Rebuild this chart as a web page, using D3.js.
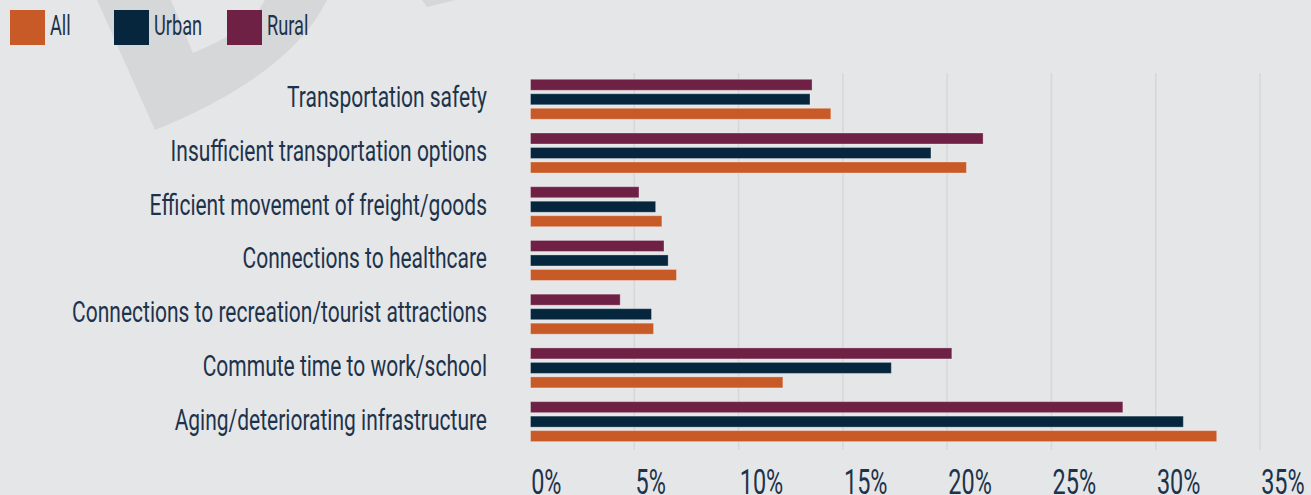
<!DOCTYPE html>
<html>
<head>
<meta charset="utf-8">
<script src="https://cdn.jsdelivr.net/npm/d3@7"></script>
<style>
  html, body { margin: 0; padding: 0; background: #e5e6e8; }
  svg { display: block; }
  text { font-family: Roboto, "Noto Sans", sans-serif; fill: #1d334b; }
</style>
</head>
<body>
<svg id="chart" width="1311" height="495"></svg>
<script>
// ---- data ----
const categories = [
  "Transportation safety",
  "Insufficient transportation options",
  "Efficient movement of freight/goods",
  "Connections to healthcare",
  "Connections to recreation/tourist attractions",
  "Commute time to work/school",
  "Aging/deteriorating infrastructure"
];
const seriesNames = ["All", "Urban", "Rural"];
const allValues   = [14.4, 20.9, 6.3, 7.0, 5.9, 12.1, 32.9];
const urbanValues = [13.4, 19.2, 6.0, 6.6, 5.8, 17.3, 31.3];
const ruralValues = [13.5, 21.7, 5.2, 6.4, 4.3, 20.2, 28.4];
const xTicks = [0, 5, 10, 15, 20, 25, 30, 35];

const colors = { All: "#c85a28", Urban: "#05263d", Rural: "#6e2045" };
const valuesBySeries = { All: allValues, Urban: urbanValues, Rural: ruralValues };

// horizontal squeeze factors for a narrow, tall type look
const labelSqueeze = 0.70;
const axisSqueeze = 0.67;
const legendSqueeze = 0.65;

const svg = d3.select("#chart");

// ---- faint emblem in the background ----
const bg = svg.append("g").attr("fill", "#d6d7d9");
bg.append("path").attr("d",
  "M97,0 L155,130 Q290,75 327,0 L265,0 Q250,30 193,53 L171,0 Z");
bg.append("path").attr("d", "M422,0 L456,0 L427,7 Z");

// ---- scales ----
const x = d3.scaleLinear().domain([0, 35]).range([530, 1260]);
const y = d3.scaleBand().domain(categories)
  .range([72.4, 448.5]).paddingInner(0.2555).paddingOuter(0.1278);
const yInner = d3.scaleBand().domain(["Rural", "Urban", "All"])
  .range([0, y.bandwidth()]).paddingInner(0.24).paddingOuter(0);

// ---- gridlines ----
svg.append("g").selectAll("line")
  .data(xTicks.filter(d => d > 0))
  .join("line")
  .attr("x1", d => x(d)).attr("x2", d => x(d))
  .attr("y1", 73).attr("y2", 450)
  .attr("stroke", "#d6d7d9").attr("stroke-width", 1.5);

// ---- bars ----
const rows = categories.map((c, i) => ({
  category: c,
  bars: ["Rural", "Urban", "All"].map(s => ({ series: s, value: valuesBySeries[s][i] }))
}));

const groups = svg.append("g").selectAll("g")
  .data(rows).join("g")
  .attr("transform", d => `translate(0,${y(d.category)})`);

groups.selectAll("rect")
  .data(d => d.bars).join("rect")
  .attr("x", x(0) + 0.5)
  .attr("y", d => yInner(d.series))
  .attr("width", d => x(d.value) - x(0))
  .attr("height", yInner.bandwidth())
  .attr("fill", d => colors[d.series])
  .attr("stroke", "rgba(255,255,255,0.3)")
  .attr("stroke-width", 1);

// ---- category labels ----
svg.append("g").selectAll("text")
  .data(categories).join("text")
  .attr("transform", d => `translate(487,${y(d) + y.bandwidth() / 2 + 8}) scale(${labelSqueeze},1)`)
  .attr("text-anchor", "end")
  .attr("font-size", 30)
  .text(d => d);

// ---- x axis ----
const axis = svg.append("g")
  .attr("transform", "translate(0,494)")
  .call(d3.axisBottom(x).tickValues(xTicks).tickSize(0).tickFormat(d => d + "%"));
axis.select(".domain").remove();
axis.selectAll("text")
  .attr("x", 1).attr("y", 0).attr("dy", 0)
  .attr("text-anchor", "start")
  .attr("transform", `scale(${axisSqueeze},1)`)
  .style("font-family", "Roboto, 'Noto Sans', sans-serif")
  .style("font-size", "35px")
  .style("fill", "#1d334b");
// keep each label's left edge on its tick after the squeeze
axis.selectAll(".tick text").attr("transform", `scale(${axisSqueeze},1)`);

// ---- legend ----
const legendX = [10, 114, 227];
const legend = svg.append("g").selectAll("g")
  .data(seriesNames).join("g")
  .attr("transform", (d, i) => `translate(${legendX[i]},10)`);
legend.append("rect")
  .attr("width", 35).attr("height", 35)
  .attr("fill", d => colors[d]);
legend.append("text")
  .attr("transform", `translate(40,25) scale(${legendSqueeze},1)`)
  .attr("font-size", 28)
  .text(d => d);
</script>
</body>
</html>
